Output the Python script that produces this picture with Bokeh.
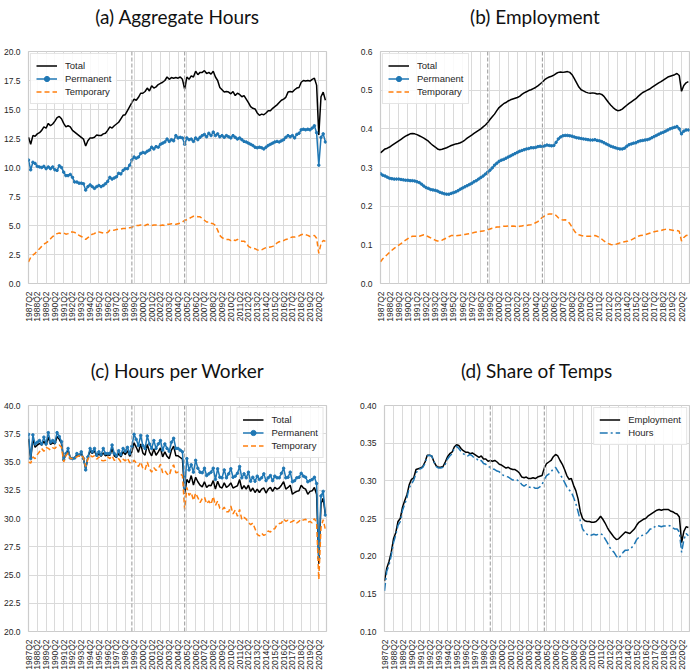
import math
from bokeh.plotting import figure
from bokeh.models import Range1d, FixedTicker, Span, NumeralTickFormatter
from bokeh.layouts import row, column
from bokeh.embed import file_html
from bokeh.resources import INLINE

# ---------------- quarter labels ----------------
quarters = []
_y, _q = 1987, 2
for _ in range(136):
    quarters.append(f"{_y}Q{_q}")
    _q += 1
    if _q > 4:
        _q = 1
        _y += 1
tick_idx = list(range(0, 133, 4))
break_quarters = ["1999Q1", "2005Q1"]

# ---------------- (a) Aggregate Hours ----------------
agg_total = [12.6, 12.0, 12.75, 12.7, 12.9, 13.0, 13.2, 13.5, 13.4, 13.8,
             13.6, 13.75, 14.0, 14.3, 14.4, 14.2, 13.8, 13.5, 13.6, 13.5,
             13.2, 13.05, 12.9, 12.75, 12.6, 12.45, 11.85, 12.3, 12.55, 12.55,
             12.6, 12.8, 12.75, 12.75, 12.9, 12.95, 13.2, 13.5, 13.4, 13.6,
             13.75, 13.9, 14.2, 14.5, 14.55, 14.9, 15.25, 15.6, 15.9, 15.8,
             16.05, 16.4, 16.4, 16.55, 16.85, 16.6, 17.05, 16.85, 16.95, 17.15,
             17.25, 17.35, 17.5, 17.8, 17.6, 17.75, 17.7, 17.75, 17.7, 17.8,
             17.6, 16.75, 17.8, 17.6, 17.9, 17.8, 18.3, 18.0, 18.2, 18.2,
             18.35, 18.1, 18.2, 18.05, 18.3, 17.8, 17.5, 16.9, 16.7, 16.5,
             16.55, 16.5, 16.35, 16.55, 16.2, 16.4, 16.3, 16.1, 16.2, 15.9,
             15.6, 15.25, 15.1, 15.05, 14.7, 14.5, 14.6, 14.55, 14.7, 14.9,
             14.9, 15.1, 15.25, 15.4, 15.6, 15.8, 15.9, 16.05, 16.5, 16.55,
             16.5, 16.7, 16.85, 16.9, 17.35, 17.5, 17.45, 17.5, 17.45, 17.6,
             17.7, 17.1, 12.8, 16.1, 16.5, 15.8]
agg_perm = [10.65, 9.8, 10.45, 10.35, 10.1, 10.05, 10.0, 10.1, 9.9, 10.05,
            9.9, 10.05, 9.8, 9.75, 10.15, 10.0, 9.6, 9.3, 9.3, 9.4,
            9.15, 8.75, 8.75, 8.65, 8.65, 8.6, 8.05, 8.35, 8.5, 8.35,
            8.2, 8.35, 8.45, 8.35, 8.45, 8.6, 8.8, 9.15, 9.0, 9.1,
            9.2, 9.5, 9.45, 9.75, 9.9, 9.9, 10.2, 10.65, 10.9, 10.8,
            10.9, 11.2, 11.3, 11.25, 11.4, 11.5, 11.75, 11.6, 11.8, 11.75,
            12.0, 12.1, 12.2, 12.45, 12.25, 12.4, 12.3, 12.75, 12.55, 12.6,
            12.55, 12.0, 12.55, 12.4, 12.45, 12.25, 12.55, 12.4, 12.6, 12.75,
            12.85, 12.65, 12.95, 12.75, 13.05, 12.75, 12.9, 12.65, 12.75, 12.6,
            12.75, 12.65, 12.55, 12.75, 12.6, 12.45, 12.55, 12.4, 12.25, 12.2,
            12.1, 12.0, 11.9, 11.75, 11.7, 11.75, 11.7, 11.6, 11.75, 11.9,
            12.0, 12.1, 12.2, 12.25, 12.2, 12.3, 12.4, 12.6, 12.75, 12.65,
            12.75, 12.55, 12.85, 12.95, 13.25, 13.3, 13.25, 13.3, 13.25, 13.4,
            13.6, 13.0, 10.2, 12.6, 12.9, 12.2]
agg_temp = [1.85, 2.25, 2.45, 2.6, 2.8, 3.0, 3.2, 3.4, 3.5, 3.65,
            3.85, 4.05, 4.15, 4.3, 4.35, 4.3, 4.35, 4.25, 4.3, 4.45,
            4.45, 4.4, 4.3, 4.15, 4.05, 3.95, 3.8, 3.95, 4.1, 4.25,
            4.3, 4.45, 4.45, 4.4, 4.35, 4.35, 4.4, 4.6, 4.6, 4.6,
            4.65, 4.7, 4.7, 4.75, 4.75, 4.8, 4.8, 4.85, 4.95, 5.0,
            5.0, 5.05, 5.0, 5.0, 5.1, 5.05, 5.0, 5.05, 5.05, 5.05,
            5.0, 5.05, 5.0, 5.1, 5.1, 5.15, 5.15, 5.1, 5.15, 5.2,
            5.3, 5.45, 5.5, 5.6, 5.7, 5.8, 5.8, 5.75, 5.75, 5.6,
            5.45, 5.3, 5.3, 5.2, 5.15, 5.0, 4.6, 4.15, 3.95, 3.85,
            3.8, 3.8, 3.7, 3.8, 3.7, 3.8, 3.7, 3.65, 3.65, 3.5,
            3.2, 3.1, 3.05, 3.0, 2.9, 2.85, 2.9, 3.0, 3.1, 3.1,
            3.15, 3.2, 3.3, 3.5, 3.6, 3.65, 3.7, 3.8, 3.85, 3.95,
            4.0, 4.0, 4.05, 4.1, 4.2, 4.25, 4.2, 4.15, 4.05, 4.1,
            4.15, 3.9, 2.6, 3.45, 3.7, 3.65]

# ---------------- (b) Employment ----------------
emp_total = [.338, .343, .348, .350, .353, .357, .361, .365, .369, .373,
             .377, .381, .384, .387, .388, .387, .385, .382, .379, .376,
             .372, .368, .362, .357, .353, .348, .346, .347, .349, .351,
             .354, .357, .359, .361, .362, .364, .367, .371, .376, .380,
             .384, .388, .392, .396, .400, .405, .410, .416, .424, .431,
             .438, .447, .455, .460, .465, .468, .472, .475, .477, .479,
             .481, .484, .489, .493, .496, .499, .501, .504, .507, .511,
             .516, .521, .527, .531, .534, .536, .539, .543, .546, .547,
             .546, .547, .548, .546, .540, .530, .519, .508, .501, .498,
             .495, .493, .492, .493, .492, .490, .491, .489, .484, .476,
             .468, .461, .455, .450, .447, .448, .451, .456, .461, .466,
             .470, .474, .478, .484, .489, .494, .497, .500, .503, .507,
             .511, .515, .519, .522, .526, .530, .534, .536, .538, .540,
             .543, .538, .497, .512, .519, .522]
emp_perm = [.284, .280, .278, .275, .272, .271, .270, .270, .270, .269,
            .268, .267, .267, .266, .266, .265, .263, .261, .257, .252,
            .248, .246, .243, .242, .241, .239, .236, .234, .232, .231,
            .231, .233, .235, .237, .240, .244, .247, .250, .253, .256,
            .259, .263, .266, .270, .274, .278, .283, .288, .293, .299,
            .306, .311, .316, .319, .321, .324, .327, .330, .333, .336,
            .339, .342, .344, .346, .348, .349, .351, .351, .352, .354,
            .355, .354, .356, .358, .357, .356, .357, .365, .374, .379,
            .382, .383, .383, .382, .381, .379, .377, .376, .375, .374,
            .373, .372, .371, .371, .372, .370, .369, .367, .364, .361,
            .358, .355, .353, .351, .349, .348, .348, .350, .355, .359,
            .361, .363, .364, .367, .369, .370, .371, .372, .374, .377,
            .380, .383, .386, .389, .391, .394, .397, .400, .402, .404,
            .406, .400, .387, .394, .397, .397]
emp_temp = [.056, .064, .070, .075, .081, .086, .091, .095, .099, .103,
            .108, .112, .116, .120, .122, .122, .122, .122, .124, .126,
            .124, .121, .118, .115, .112, .110, .110, .112, .115, .118,
            .121, .124, .124, .123, .124, .125, .126, .127, .128, .129,
            .130, .132, .133, .134, .135, .136, .137, .139, .141, .143,
            .144, .146, .146, .147, .148, .148, .149, .148, .149, .148,
            .146, .148, .149, .150, .150, .151, .152, .154, .157, .160,
            .166, .171, .175, .178, .180, .180, .179, .176, .170, .166,
            .164, .165, .161, .155, .146, .136, .129, .126, .124, .123,
            .122, .122, .122, .123, .124, .122, .119, .115, .110, .106,
            .103, .101, .100, .101, .103, .105, .107, .108, .109, .110,
            .113, .116, .119, .122, .124, .125, .126, .128, .130, .132,
            .134, .135, .136, .137, .139, .140, .140, .139, .138, .137,
            .137, .135, .110, .119, .124, .125]

# ---------------- (c) Hours per Worker ----------------
hpw_total = [37.05, 35.25, 37.0, 36.3, 36.5, 36.65, 36.5, 36.85, 36.5, 37.2,
             36.55, 36.7, 36.6, 37.25, 37.0, 36.65, 35.15, 35.7, 36.05, 35.35,
             35.3, 35.35, 35.65, 35.6, 35.8, 35.3, 34.4, 35.4, 36.0, 35.75,
             36.0, 35.5, 35.75, 35.5, 35.8, 35.55, 35.65, 35.6, 36.2, 35.55,
             35.4, 35.75, 35.45, 35.9, 35.65, 36.0, 35.5, 35.9, 36.7, 36.3,
             35.85, 36.6, 35.8, 35.6, 36.55, 35.9, 35.55, 36.15, 35.6, 35.9,
             36.25, 35.45, 35.9, 35.5, 35.3, 36.05, 36.4, 35.55, 35.55, 35.4,
             35.25, 32.2, 33.45, 33.15, 33.8, 32.95, 33.65, 33.25, 32.95, 32.8,
             33.25, 32.75, 32.95, 32.9, 33.35, 32.6, 33.3, 32.8, 32.7, 33.15,
             32.75, 32.9, 33.15, 32.7, 32.8, 32.9, 33.45, 32.6, 32.9, 32.6,
             32.95, 32.4, 32.7, 32.3, 32.6, 32.3, 32.6, 32.7, 32.25, 32.6,
             32.75, 32.4, 32.75, 32.6, 32.7, 32.95, 33.25, 32.6, 32.75, 32.95,
             32.15, 32.3, 32.4, 32.45, 32.95, 32.7, 32.6, 32.15, 32.4, 32.45,
             32.75, 32.15, 26.0, 31.3, 31.8, 30.3]
hpw_perm = [37.45, 35.3, 37.4, 36.6, 36.75, 36.9, 36.6, 37.2, 36.6, 37.6,
            36.75, 36.9, 36.75, 37.6, 37.25, 36.8, 35.2, 35.75, 36.2, 35.35,
            35.3, 35.35, 35.75, 35.6, 35.9, 35.3, 34.3, 35.45, 36.2, 35.9,
            36.2, 35.6, 35.9, 35.65, 36.2, 35.75, 35.75, 35.75, 36.5, 35.75,
            35.55, 36.0, 35.65, 36.2, 35.95, 36.3, 35.75, 36.4, 37.45, 37.0,
            36.45, 37.35, 36.45, 36.2, 37.3, 36.6, 36.2, 36.9, 36.2, 36.6,
            36.9, 36.05, 36.6, 36.2, 35.95, 36.75, 37.1, 36.2, 36.2, 36.05,
            35.9, 32.75, 35.3, 34.3, 34.75, 34.1, 35.15, 34.45, 34.1, 34.05,
            34.45, 33.8, 33.95, 34.1, 34.45, 33.45, 34.4, 33.65, 33.6, 34.3,
            33.6, 33.95, 34.4, 33.65, 33.75, 34.0, 34.6, 33.6, 33.95, 33.6,
            34.1, 33.3, 33.65, 33.3, 33.75, 33.45, 33.6, 33.95, 33.35, 33.6,
            33.8, 33.35, 33.75, 33.6, 33.6, 34.0, 34.45, 33.6, 33.65, 34.1,
            33.25, 33.35, 33.6, 33.65, 34.0, 33.75, 33.65, 33.25, 33.35, 33.45,
            33.65, 33.1, 26.5, 32.0, 32.4, 30.3]
hpw_temp = [35.0, 34.9, 35.45, 35.3, 35.65, 35.9, 36.2, 35.95, 36.3, 36.2,
            36.05, 36.25, 36.2, 36.4, 36.5, 36.3, 35.0, 35.55, 35.8, 35.3,
            35.3, 35.35, 35.45, 35.55, 35.65, 35.35, 34.6, 35.25, 35.6, 35.45,
            35.55, 35.25, 35.45, 35.15, 35.1, 35.15, 35.45, 35.3, 35.55, 35.15,
            35.15, 35.3, 35.0, 35.25, 35.1, 35.35, 34.95, 34.9, 35.15, 34.9,
            34.6, 35.0, 34.45, 34.3, 35.0, 34.4, 34.1, 34.5, 34.25, 34.4,
            34.8, 34.05, 34.25, 33.95, 33.8, 34.45, 34.75, 34.05, 34.1, 33.95,
            33.8, 30.8, 32.75, 32.05, 32.3, 31.6, 32.25, 31.85, 31.4, 31.75,
            31.9, 31.3, 31.55, 31.25, 31.95, 31.15, 31.55, 30.9, 30.75, 31.0,
            30.6, 30.6, 31.1, 30.4, 30.75, 30.2, 30.8, 29.9, 30.1, 29.95,
            29.65, 29.45, 29.6, 29.1, 28.6, 28.45, 28.7, 28.5, 28.6, 28.9,
            28.8, 29.05, 29.1, 29.45, 29.55, 29.6, 29.95, 29.75, 29.85, 29.65,
            29.75, 29.85, 29.6, 29.75, 29.95, 29.85, 29.95, 29.65, 29.75, 29.6,
            30.0, 29.65, 24.6, 29.2, 29.9, 29.0]

# ---------------- (d) Share of Temps ----------------
share_emp = [.167, .184, .193, .205, .223, .231, .246, .250, .265, .274,
             .282, .295, .302, .304, .315, .316, .317, .319, .325, .334,
             .334, .333, .325, .320, .318, .318, .319, .325, .332, .336,
             .338, .345, .348, .347, .343, .340, .338, .338, .336, .337,
             .335, .333, .331, .333, .329, .329, .326, .327, .326, .327,
             .325, .322, .321, .319, .317, .318, .316, .315, .315, .313,
             .310, .305, .304, .305, .303, .303, .304, .303, .305, .306,
             .307, .317, .323, .325, .327, .332, .335, .333, .327, .322,
             .315, .307, .302, .303, .294, .287, .276, .259, .250, .247,
             .246, .246, .245, .245, .246, .249, .253, .249, .244, .238,
             .233, .229, .225, .222, .223, .226, .229, .232, .231, .230,
             .233, .236, .241, .245, .247, .249, .250, .253, .255, .257,
             .259, .261, .262, .261, .262, .262, .262, .260, .259, .257,
             .256, .252, .218, .233, .239, .238]
share_hours = [.154, .180, .188, .201, .218, .228, .241, .246, .261, .269,
               .278, .291, .296, .301, .310, .315, .316, .318, .323, .333,
               .334, .333, .325, .319, .317, .317, .318, .322, .329, .333,
               .336, .343, .346, .343, .339, .336, .334, .333, .335, .333,
               .330, .329, .326, .327, .323, .322, .319, .318, .316, .315,
               .313, .312, .309, .307, .306, .305, .303, .301, .302, .301,
               .299, .295, .293, .295, .292, .291, .292, .290, .290, .292,
               .295, .302, .307, .309, .312, .316, .318, .313, .308, .304,
               .298, .292, .288, .285, .278, .270, .259, .247, .236, .232,
               .229, .227, .228, .229, .228, .229, .230, .228, .223, .218,
               .212, .208, .205, .200, .197, .201, .205, .208, .208, .209,
               .212, .216, .222, .225, .227, .228, .229, .232, .236, .236,
               .239, .241, .240, .239, .240, .240, .241, .240, .238, .236,
               .236, .232, .205, .222, .230, .227]

x = list(range(len(quarters)))
BLUE = "#1f77b4"
ORANGE = "#ff7f0e"
TICK_FONT = "Liberation Sans"


def make_fig(title, yr, yticks, fmt, borders):
    l, r, t, b = borders
    p = figure(width=345, height=336, output_backend="svg", toolbar_location=None,
               x_range=Range1d(0, 135.5), y_range=Range1d(*yr),
               min_border_left=l, min_border_right=r,
               min_border_top=t, min_border_bottom=b)
    # the trailing empty line lifts the caption away from the frame
    p.title.text = title + "\n"
    p.title.align = "center"
    p.title.text_font = "Lato"
    p.title.text_font_size = "19px"
    p.title.text_font_style = "normal"
    p.title.text_color = "#111111"
    p.title.standoff = 2
    p.outline_line_color = "#cccccc"
    p.outline_line_width = 1.2
    p.background_fill_color = "white"
    p.border_fill_color = "white"
    xa = p.below[0]
    ya = p.left[0]
    xa.ticker = FixedTicker(ticks=tick_idx)
    xa.major_label_overrides = {i: quarters[i] for i in tick_idx}
    xa.major_label_orientation = math.pi / 2
    ya.ticker = FixedTicker(ticks=yticks)
    ya.formatter = NumeralTickFormatter(format=fmt)
    for ax in (xa, ya):
        ax.axis_line_color = None
        ax.major_tick_line_color = None
        ax.minor_tick_line_color = None
        ax.major_label_text_font = TICK_FONT
        ax.major_label_text_font_size = "8.5px"
        ax.major_label_text_color = "#262626"
        ax.major_label_standoff = 2
    p.xgrid.grid_line_color = "#dadada"
    p.ygrid.grid_line_color = "#dadada"
    for bq in break_quarters:
        p.add_layout(Span(location=quarters.index(bq), dimension="height",
                          line_color="#a0a0a0", line_dash="4 2", line_width=1.1))
    return p


def style_legend(p, loc):
    lg = p.legend[0]
    lg.location = loc
    lg.label_text_font = TICK_FONT
    lg.label_text_font_size = "9.5px"
    lg.label_text_color = "#262626"
    lg.label_height = 13
    lg.glyph_height = 13
    lg.glyph_width = 21
    lg.label_standoff = 8
    lg.spacing = 0
    lg.padding = 5
    lg.margin = 2
    lg.border_line_color = "#cccccc"
    lg.border_line_width = 1
    lg.background_fill_alpha = 0.85


def three_lines(p, tot, perm, temp):
    p.line(x, tot, line_color="black", line_width=1.5, legend_label="Total")
    p.line(x, perm, line_color=BLUE, line_width=1.5, legend_label="Permanent")
    p.scatter(x, perm, size=2.5, fill_color=BLUE, line_color=BLUE, legend_label="Permanent")
    p.line(x, temp, line_color=ORANGE, line_width=1.5, line_dash="5 3", legend_label="Temporary")


pa = make_fig("(a) Aggregate Hours", (0, 20), [0, 2.5, 5, 7.5, 10, 12.5, 15, 17.5, 20],
              "0.0", (21, 19, 51, 53))
three_lines(pa, agg_total, agg_perm, agg_temp)
style_legend(pa, "top_left")

pb = make_fig("(b) Employment", (0, 0.6), [0, 0.1, 0.2, 0.3, 0.4, 0.5, 0.6],
              "0.0", (35, 1, 51, 53))
three_lines(pb, emp_total, emp_perm, emp_temp)
style_legend(pb, "top_left")

pc = make_fig("(c) Hours per Worker", (20, 40), [20, 22.5, 25, 27.5, 30, 32.5, 35, 37.5, 40],
              "0.0", (21, 19, 69, 33))
three_lines(pc, hpw_total, hpw_perm, hpw_temp)
style_legend(pc, "top_right")

pd_ = make_fig("(d) Share of Temps", (0.10, 0.40), [0.10, 0.15, 0.20, 0.25, 0.30, 0.35, 0.40],
               "0.00", (39, 1, 69, 33))
pd_.line(x, share_emp, line_color="black", line_width=1.5, legend_label="Employment")
pd_.line(x, share_hours, line_color=BLUE, line_width=1.5, line_dash="8 3 2 3", legend_label="Hours")
style_legend(pd_, "top_right")

layout = column(row(pa, pb), row(pc, pd_))
open("out.html", "w").write(file_html(layout, INLINE))
